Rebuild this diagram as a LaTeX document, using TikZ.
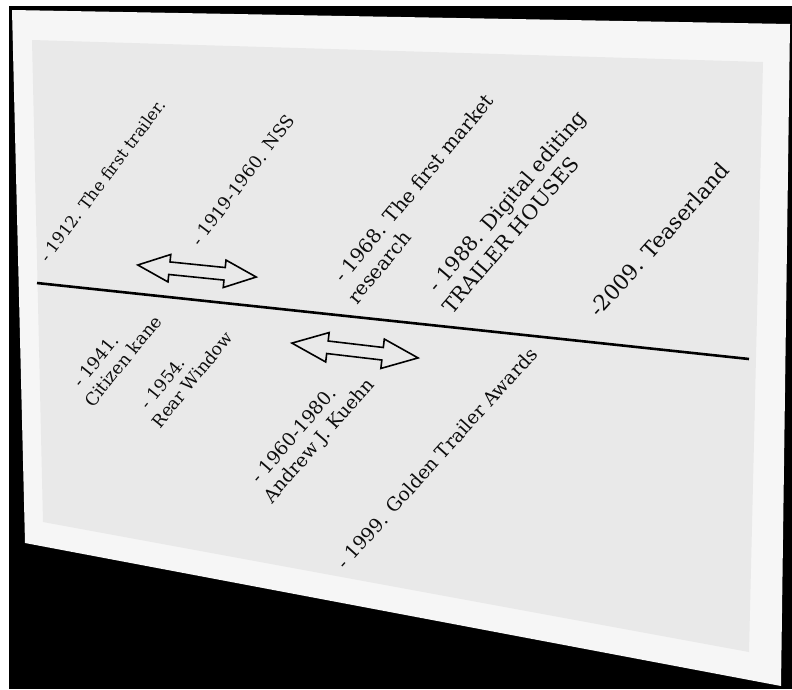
\documentclass[tikz,border=0pt]{standalone}
\usepackage{fontspec}
\setmainfont{DejaVu Serif}
\usetikzlibrary{shapes.arrows}
\definecolor{framecol}{HTML}{F6F6F6}
\definecolor{panelcol}{HTML}{E9E9E9}
\tikzset{
  lbl/.style={anchor=base west, inner sep=0pt, outer sep=0pt, align=left, text=black!95},
  dblarrow/.style={double arrow, draw=black, line width=1.6pt, inner xsep=0pt,
    inner ysep=5.5pt, minimum width=0pt, double arrow head extend=7.5pt,
    double arrow tip angle=47, double arrow head indent=0pt},
  timeline/.style={line width=2.6pt, black},
}
\begin{document}
\begin{tikzpicture}[x=1pt,y=-1pt]
\useasboundingbox (0,0) rectangle (792,689);
\fill[white] (0,0) rectangle (792,689);
\fill[black] (9,6) rectangle (792,689);
% board
\fill[framecol] (12,10) -- (790,24) -- (781,686) -- (25,543) -- cycle;
\fill[panelcol] (32,40) -- (763,62) -- (749,652) -- (43,522) -- cycle;
% timeline
\coordinate (tlA) at (37,283);
\coordinate (tlB) at (749,359);
\draw[timeline] (tlA) -- (tlB);
% arrows
\node[dblarrow, minimum height=119pt, rotate=-5.8] (arrA) at (197,271) {};
\node[dblarrow, minimum height=127pt, rotate=-6.7, double arrow head extend=8.5pt, double arrow tip angle=45] (arrB) at (355,350.5) {};
% labels above
\node[lbl, rotate=53, font=\fontsize{16.5}{19.8}\selectfont] (t1912) at (48,263) {- 1912. The first trailer.};
\node[lbl, rotate=53, font=\fontsize{17.5}{21}\selectfont] (t1919) at (200,247) {- 1919-1960. NSS};
\node[lbl, rotate=50.4, font=\fontsize{19.5}{23.6}\selectfont] (t1968) at (357,305) {\hspace*{0.4em}- 1968. The first market\\research};
\node[lbl, rotate=49.5, font=\fontsize{20.5}{24.8}\selectfont] (t1988) at (452,315) {\hspace*{0.35em}- 1988. Digital editing\\TRAILER HOUSES};
\node[lbl, rotate=48, font=\fontsize{21.5}{25.5}\selectfont] (t2009) at (599,318) {-2009. Teaserland};
% labels below
\node[lbl, rotate=51, font=\fontsize{17.5}{21}\selectfont] (t1941) at (93,408) {\hspace*{0.45em}- 1941.\\Citizen kane};
\node[lbl, rotate=51, font=\fontsize{17.2}{20.6}\selectfont] (t1954) at (160,429) {\hspace*{0.4em}- 1954.\\Rear Window};
\node[lbl, rotate=49, font=\fontsize{18.6}{22.5}\selectfont] (t1960) at (272,504) {\hspace*{0.35em}- 1960-1980.\\Andrew J. Kuehn};
\node[lbl, rotate=48, font=\fontsize{18.8}{22.6}\selectfont] (t1999) at (345,570) {- 1999. Golden Trailer Awards};
\end{tikzpicture}
\end{document}
